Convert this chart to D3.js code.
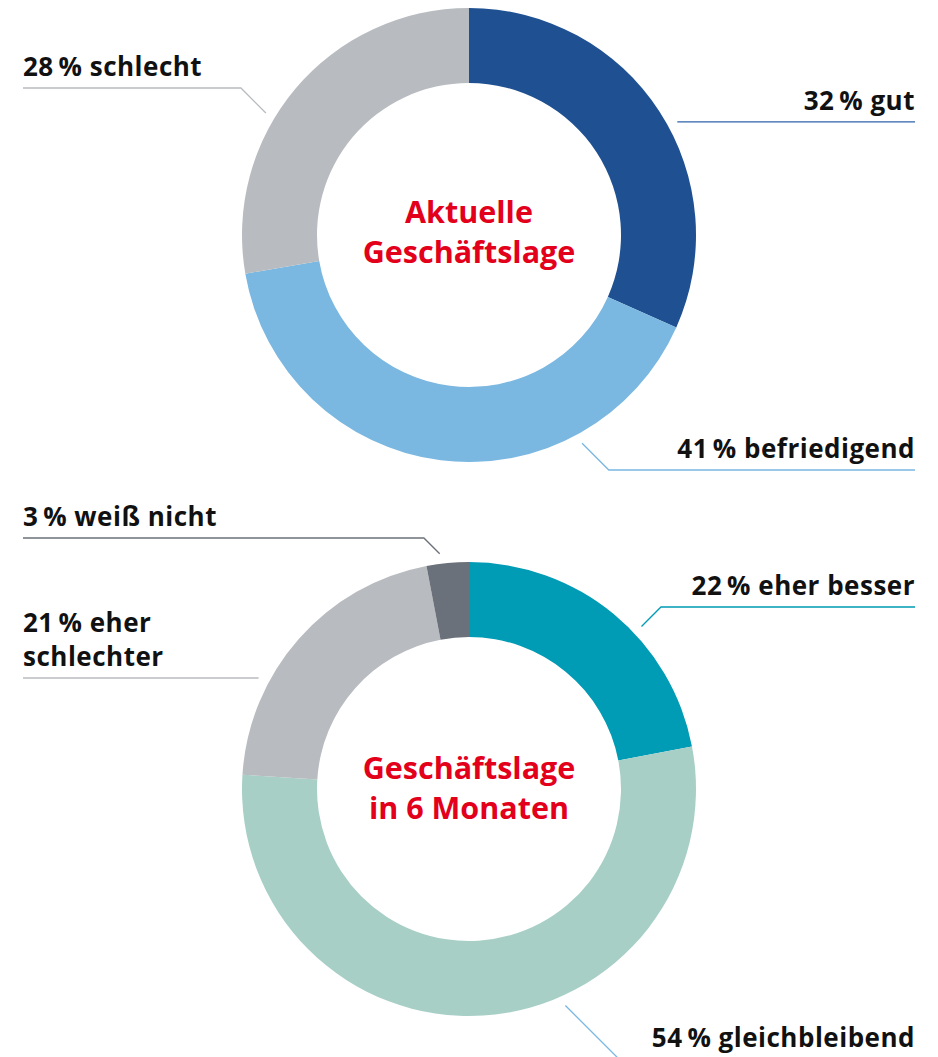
<!DOCTYPE html>
<html>
<head>
<meta charset="utf-8">
<script src="https://cdn.jsdelivr.net/npm/d3@7"></script>
<style>
  body { margin: 0; background: #fff; }
  text { font-family: "Open Sans", sans-serif; }
</style>
</head>
<body>
<script>
// --- data ---
const currentCats = ['gut', 'befriedigend', 'schlecht'];
const currentVals = [32, 41, 28];
const currentColors = ['#1f5192', '#7ab7e1', '#b8bbbf'];

const futureCats = ['eher besser', 'gleichbleibend', 'eher schlechter', 'weiß nicht'];
const futureVals = [22, 54, 21, 3];
const futureColors = ['#009bb4', '#a7cfc6', '#b8bbbf', '#6b717a'];

// label layout: angle (deg) where the leader touches the ring, y of the horizontal rule, side
const currentLabels = [
  { angle: 61.5, lineY: 122, side: 'right', line: '#2f63a8', lines: ['32\u2009% gut'] },
  { angle: 151.5, lineY: 470, side: 'right', line: '#7ab7e1', lines: ['41\u2009% befriedigend'] },
  { angle: 301, lineY: 88, side: 'left', line: '#b8bbbf', lines: ['28\u2009% schlecht'] }
];
const futureLabels = [
  { angle: 46.7, lineY: 607, side: 'right', line: '#009bb4', lines: ['22\u2009% eher besser'] },
  { angle: 156, lineY: 1062, side: 'right', line: '#7ab7e1', lines: ['54\u2009% gleichbleibend'], textY: 1047 },
  { angle: 297.4, lineY: 678, side: 'left', line: '#b8bbbf', lines: ['21\u2009% eher', 'schlechter'], straight: true },
  { angle: 352.9, lineY: 538, side: 'left', line: '#6b717a', lines: ['3\u2009% weiß nicht'] }
];

const W = 938, H = 1057;
const R = 227, r = 152, cx = 469;
const leftX = 23, rightX = 915;

const svg = d3.select('body').append('svg').attr('width', W).attr('height', H);

function donut(cy, vals, colors, labels, title, titleY) {
  const g = svg.append('g').attr('transform', `translate(${cx},${cy})`);
  const pie = d3.pie().sort(null)(vals);
  const arc = d3.arc().innerRadius(r).outerRadius(R);
  g.selectAll('path.slice').data(pie).enter().append('path')
    .attr('class', 'slice')
    .attr('d', arc)
    .attr('fill', (d, i) => colors[i]);

  // center title
  g.selectAll('text.title').data(title).enter().append('text')
    .attr('class', 'title')
    .attr('x', 0)
    .attr('y', (d, i) => titleY + i * 40)
    .attr('text-anchor', 'middle')
    .attr('fill', '#e3001b')
    .attr('font-size', 30.5)
    .attr('font-weight', 700)
    .text(d => d);

  labels.forEach(l => {
    const a = l.angle * Math.PI / 180;
    const rr = R + 10;
    const px = cx + rr * Math.sin(a), py = cy - rr * Math.cos(a);
    const endX = l.side === 'left' ? leftX : rightX;
    let pts;
    if (l.straight) {
      pts = [[px, l.lineY], [endX, l.lineY]];
    } else {
      const dy = l.lineY - py;
      const dir = l.side === 'left' ? -1 : 1;
      const ex = px + dir * Math.abs(dy);
      pts = Math.abs(dy) < 1 ? [[px, py], [endX, py]] : [[px, py], [ex, l.lineY], [endX, l.lineY]];
    }
    svg.append('path')
      .attr('d', d3.line()(pts))
      .attr('fill', 'none')
      .attr('stroke', l.line)
      .attr('stroke-width', 1.3);

    const baseY = l.textY || (l.lineY - 12 - (l.lines.length - 1) * 34);
    svg.append('text')
      .attr('x', endX)
      .attr('text-anchor', l.side === 'left' ? 'start' : 'end')
      .attr('font-size', 26)
      .attr('font-weight', 700)
      .attr('letter-spacing', 0.5)
      .attr('fill', '#111')
      .selectAll('tspan').data(l.lines).enter().append('tspan')
      .attr('x', endX)
      .attr('y', (d, i) => baseY + i * 34)
      .text(d => d);
  });
}

donut(235, currentVals, currentColors, currentLabels, ['Aktuelle', 'Geschäftslage'], -12);
donut(789, futureVals, futureColors, futureLabels, ['Geschäftslage', 'in 6 Monaten'], -10);
</script>
</body>
</html>
